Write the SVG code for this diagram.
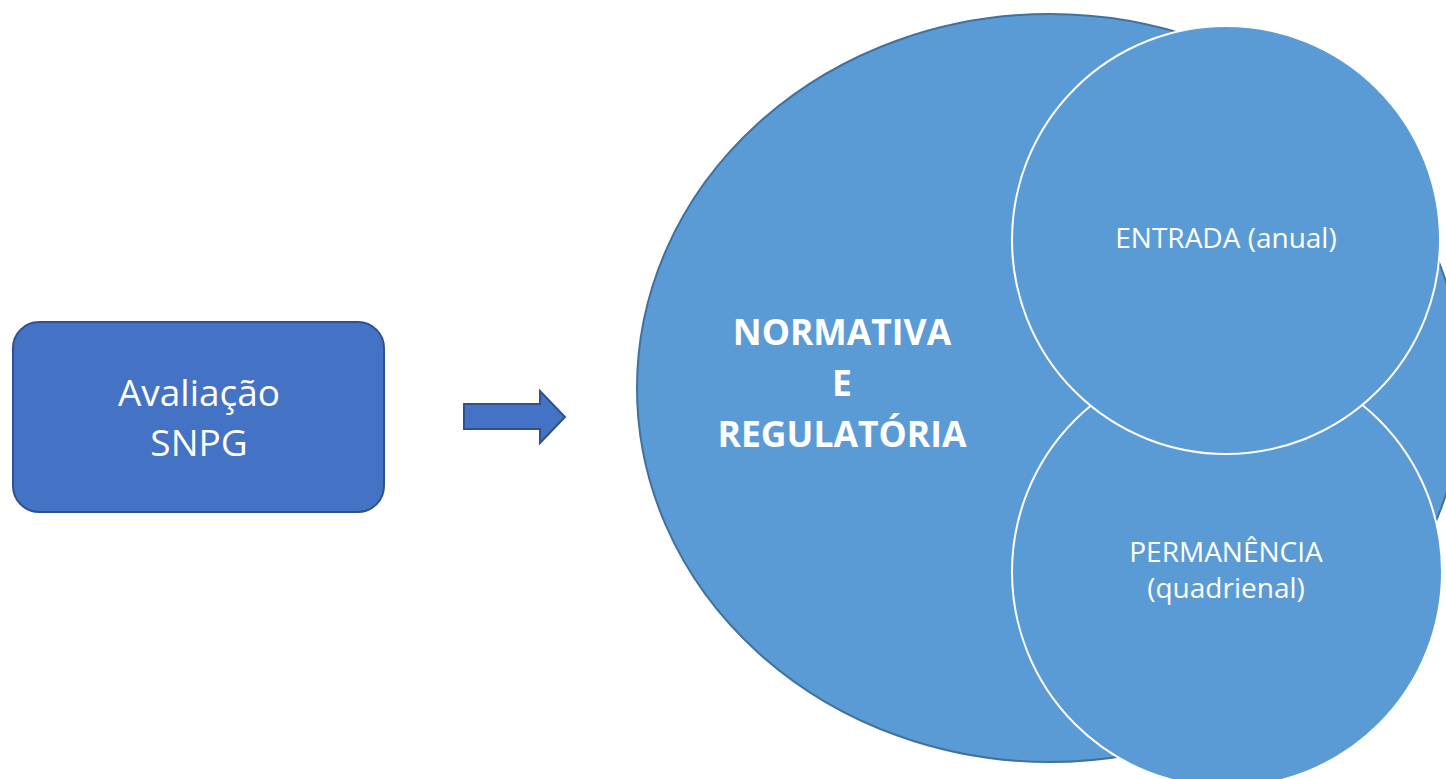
<svg xmlns="http://www.w3.org/2000/svg" width="1446" height="779" viewBox="0 0 1446 779">
<style>
.t{fill:#fff;font-family:"Open Sans","Noto Sans",sans-serif;text-anchor:middle}
.c{fill:#5B9BD5;stroke:#fff;stroke-width:2}
</style>
<rect width="1446" height="779" fill="#fff"/>
<g id="avaliacao">
<rect x="13" y="322" width="371" height="190" rx="26" fill="#4472C4" stroke="#2F528F" stroke-width="2"/>
<text class="t" x="199" y="406" font-size="37">Avaliação</text>
<text class="t" x="199" y="456" font-size="37">SNPG</text>
</g>
<g id="connectors">
<path d="M464,404 H540 V391 L565,417 L540,443 V429 H464 Z" fill="#4472C4" stroke="#2F528F" stroke-width="2"/>
</g>
<g id="normativa">
<ellipse cx="1050" cy="388" rx="413" ry="374" fill="#5B9BD5" stroke="#41719C" stroke-width="2"/>
<text class="t" x="842" y="345" font-size="35.5" font-weight="bold">NORMATIVA</text>
<text class="t" x="842" y="396" font-size="35.5" font-weight="bold">E</text>
<text class="t" x="842" y="447" font-size="35.5" font-weight="bold">REGULATÓRIA</text>
</g>
<g id="permanencia">
<circle class="c" cx="1227" cy="572" r="215"/>
<text class="t" x="1226" y="562" font-size="28">PERMANÊNCIA</text>
<text class="t" x="1226" y="598" font-size="28">(quadrienal)</text>
</g>
<g id="entrada">
<circle class="c" cx="1226" cy="240" r="214"/>
<text class="t" x="1226" y="248" font-size="28">ENTRADA (anual)</text>
</g>
</svg>
